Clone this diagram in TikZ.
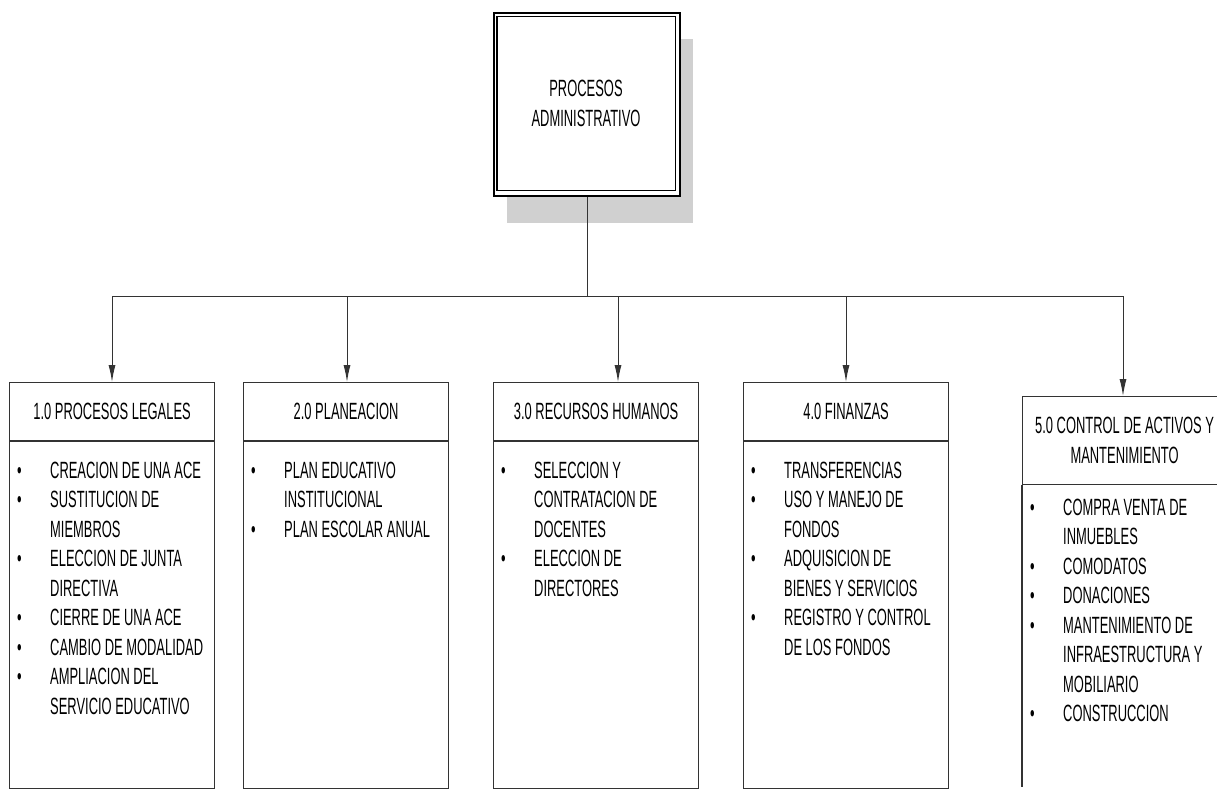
\documentclass[tikz,border=0pt]{standalone}
\usepackage{fontspec}
\setmainfont{Liberation Sans}[FakeStretch=0.55]
\usetikzlibrary{arrows.meta}
\definecolor{shadowgray}{HTML}{D0D0D0}
\definecolor{ink}{HTML}{333333}

% bullet list: bullet column, then the item lines
\newcommand\blist[1]{\begin{tabular}[t]{@{}p{33pt}@{}l@{}}#1\end{tabular}}

\begin{document}
\begin{tikzpicture}[x=1pt,y=-1pt,
  txt/.style={font=\fontsize{23.5}{29.5}\selectfont, inner sep=0pt},
  frame/.style={draw=ink, line width=1.2pt, inner sep=0pt},
  hdr/.style={frame, txt, minimum width=205pt, minimum height=58pt, anchor=north west},
  body/.style={frame, minimum width=205pt, minimum height=347pt, anchor=north west},
  link/.style={draw=ink, line width=1pt},
  tip/.style={-{Latex[length=17pt,width=7pt]}},
]
\useasboundingbox (0,0) rectangle (1217,796);
\clip (0,0) rectangle (1217,796);

% root box with drop shadow and double border
\fill[shadowgray] (507,39) rectangle (693,223);
\node[draw=black, line width=1.8pt, fill=white, minimum width=186pt,
      minimum height=183pt, anchor=north west, inner sep=0pt] (root) at (493,12) {};
\draw[line width=1.2pt] (497,16.5) rectangle (675.5,190.5);
\node[txt, align=center] (rootlbl) at (586,103.5) {PROCESOS\\ADMINISTRATIVO};

% process boxes
\node[hdr] (h1) at (9,382) {1.0 PROCESOS LEGALES};
\node[body] (b1) at (h1.south west) {};
\node[hdr] (h2) at (243,382) {2.0 PLANEACION};
\node[body] (b2) at (h2.south west) {};
\node[hdr] (h3) at (493,382) {3.0 RECURSOS HUMANOS};
\node[body] (b3) at (h3.south west) {};
\node[hdr] (h4) at (743,382) {4.0 FINANZAS};
\node[body] (b4) at (h4.south west) {};

% fifth box runs past the right edge
\node[frame, txt, align=center, minimum width=204pt, minimum height=88pt,
      anchor=north west] (h5) at (1022,396) {5.0 CONTROL DE ACTIVOS Y\\MANTENIMIENTO};
\draw[frame] (h5.south west) -- (1022,787);

% item lists
\node[txt, anchor=base west] (l1) at (17,478) {\blist{%
  • & CREACION DE UNA ACE\\
  • & SUSTITUCION DE\\
    & MIEMBROS\\
  • & ELECCION DE JUNTA\\
    & DIRECTIVA\\
  • & CIERRE DE UNA ACE\\
  • & CAMBIO DE MODALIDAD\\
  • & AMPLIACION DEL\\
    & SERVICIO EDUCATIVO}};
\node[txt, anchor=base west] (l2) at (251,478) {\blist{%
  • & PLAN EDUCATIVO\\
    & INSTITUCIONAL\\
  • & PLAN ESCOLAR ANUAL}};
\node[txt, anchor=base west] (l3) at (501,478) {\blist{%
  • & SELECCION Y\\
    & CONTRATACION DE\\
    & DOCENTES\\
  • & ELECCION DE\\
    & DIRECTORES}};
\node[txt, anchor=base west] (l4) at (751,478) {\blist{%
  • & TRANSFERENCIAS\\
  • & USO Y MANEJO DE\\
    & FONDOS\\
  • & ADQUISICION DE\\
    & BIENES Y SERVICIOS\\
  • & REGISTRO Y CONTROL\\
    & DE LOS FONDOS}};
\node[txt, anchor=base west] (l5) at (1030,515) {\blist{%
  • & COMPRA VENTA DE\\
    & INMUEBLES\\
  • & COMODATOS\\
  • & DONACIONES\\
  • & MANTENIMIENTO DE\\
    & INFRAESTRUCTURA Y\\
    & MOBILIARIO\\
  • & CONSTRUCCION}};

% connectors
\coordinate (bus) at (587,296);
\coordinate (j1) at (112,296);
\coordinate (j2) at (347,296);
\coordinate (j3) at (618,296);
\coordinate (j4) at (846,296);
\coordinate (j5) at (1123,296);
\draw[link] (root.south -| bus) -- (bus);
\draw[link] (j1) -- (j5);
\draw[link, tip] (j1) -- (j1 |- h1.north);
\draw[link, tip] (j2) -- (j2 |- h2.north);
\draw[link, tip] (j3) -- (j3 |- h3.north);
\draw[link, tip] (j4) -- (j4 |- h4.north);
\draw[link, tip] (j5) -- (j5 |- h5.north);
\end{tikzpicture}
\end{document}
